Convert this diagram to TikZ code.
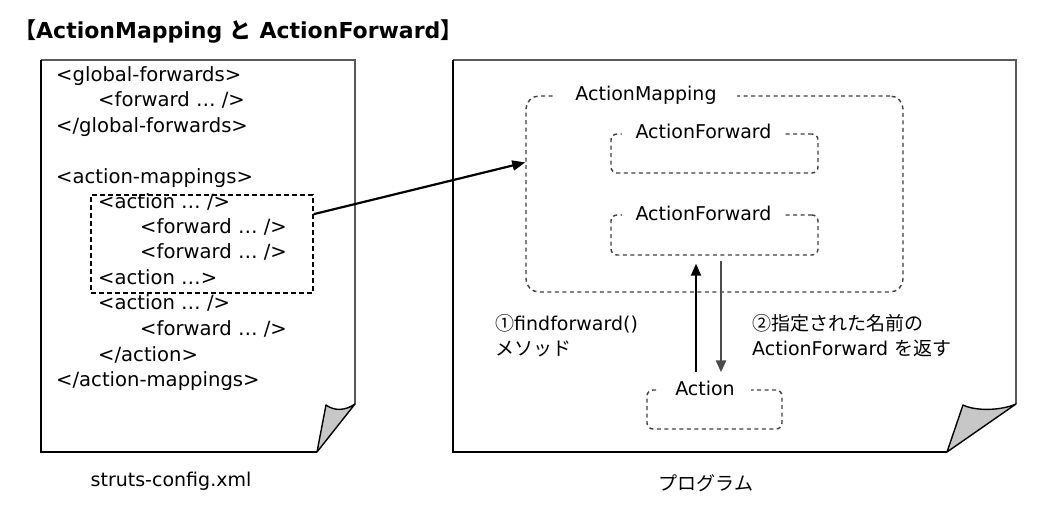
\documentclass[tikz,border=0pt]{standalone}
\usepackage{fontspec}
\setmainfont{DejaVu Sans}
\newfontfamily\cjk{Noto Sans CJK JP}
\usetikzlibrary{arrows.meta,calc}
\begin{document}
\begin{tikzpicture}[x=1pt,y=-1pt,
  base/.style={font=\fontsize{19}{25}\selectfont, inner sep=0pt},
  code/.style={base, font=\fontsize{19.6}{25}\selectfont, anchor=west, text height=14pt, text depth=4pt},
  dbox/.style={draw=black!75, line width=1.4pt, dash pattern=on 4pt off 3.5pt},
  lbl/.style={base, fill=white, inner xsep=15pt, inner ysep=2pt, text height=14pt, text depth=4pt},
  pageL/.style={draw=black, line width=1.8pt},
  pageT/.style={draw=black!65, line width=2pt},
  fold/.style={draw=black, line width=1.4pt, fill=black!22, line join=round},
  arr/.style={line width=2.2pt, -{Triangle[length=13pt,width=10pt]}}
]
\useasboundingbox (0,0) rectangle (1060,524);

% title
\node[anchor=west, inner sep=0pt, font=\fontsize{22}{24}\selectfont\bfseries] (title) at (14,31)
  {{\cjk 【}ActionMapping {\cjk と} ActionForward{\cjk 】}};

% ---- left page
\fill[white] (41,60) -- (355,60) -- (355,404) -- (317,452) -- (41,452) -- cycle;
\draw[pageT] (41,60) -- (355,60) -- (355,404);
\draw[pageL] (41,60) -- (41,452) -- (317,452);
\draw[fold] (317,452) -- (355,404) .. controls (345,411) and (334,411) .. (326,405) -- cycle;

\node[code] (l1) at (56,77) {<global-forwards>};
\node[code] (l2) at (98,102) {<forward … />};
\node[code] (l3) at (56,127) {</global-forwards>};
\node[code] (l4) at (56,178) {<action-mappings>};
\node[code] (l5) at (98,203) {<action … />};
\node[code] (l6) at (140,228) {<forward … />};
\node[code] (l7) at (140,253) {<forward … />};
\node[code] (l8) at (98,279) {<action …>};
\node[code] (l9) at (98,304) {<action … />};
\node[code] (l10) at (140,330) {<forward … />};
\node[code] (l11) at (98,356) {</action>};
\node[code] (l12) at (56,381) {</action-mappings>};

\node[draw=black, line width=1.5pt, dash pattern=on 5pt off 3pt, minimum width=222pt, minimum height=98pt, inner sep=0pt] (sel) at (202,244) {};

\node[base] (fname) at (171,481) {struts-config.xml};

% ---- right page
\fill[white] (453,60) -- (1016,60) -- (1016,404) -- (947,452) -- (453,452) -- cycle;
\draw[pageT] (453,60) -- (1016,60) -- (1016,404);
\draw[pageL] (453,60) -- (453,452) -- (947,452);
\draw[fold] (947,452) -- (1016,404) .. controls (1000,411) and (975,411) .. (963,405) -- cycle;

\node[dbox, rounded corners=13pt, minimum width=377pt, minimum height=196pt, inner sep=0pt] (am) at (714.5,194) {};
\node[lbl, inner xsep=20pt] (amt) at (646,96) {ActionMapping};

\node[dbox, rounded corners=6pt, minimum width=207pt, minimum height=39pt, inner sep=0pt] (af1) at (714.5,153.5) {};
\node[lbl, inner xsep=14pt] (af1t) at (703.5,134) {ActionForward};

\node[dbox, rounded corners=6pt, minimum width=207pt, minimum height=40pt, inner sep=0pt] (af2) at (714.5,235) {};
\node[lbl, inner xsep=14pt] (af2t) at (703.5,215) {ActionForward};

\node[dbox, rounded corners=6pt, minimum width=135pt, minimum height=39pt, inner sep=0pt] (act) at (714.5,409.5) {};
\node[lbl, inner xsep=16pt] (actt) at (705,390) {Action};

\node[base, anchor=west, align=left] (find) at (495,336) {{\cjk ①}findforward()\\{\cjk メソッド}};
\node[base, anchor=west, align=left] (ret) at (752,336) {{\cjk ②指定された名前の}\\ActionForward {\cjk を返す}};

\node[base, font=\cjk\fontsize{19}{25}\selectfont] (prog) at (706,483) {プログラム};

% ---- connectors
\draw[arr] ($(sel.north east)!0.2!(sel.south east)$) -- ($(am.north west)!0.34!(am.south west)$);
\draw[line width=2pt, -{Triangle[length=12pt,width=10pt]}, shorten <=17pt, shorten >=8pt]
  ([xshift=-18.5pt]act.north) -- ([xshift=-18.5pt]af2.south);
\draw[line width=2.6pt, draw=black!70, -{Triangle[length=12pt,width=10pt]}, shorten <=5pt, shorten >=17pt]
  ([xshift=6.5pt]af2.south) -- ([xshift=6.5pt]act.north);
\end{tikzpicture}
\end{document}
